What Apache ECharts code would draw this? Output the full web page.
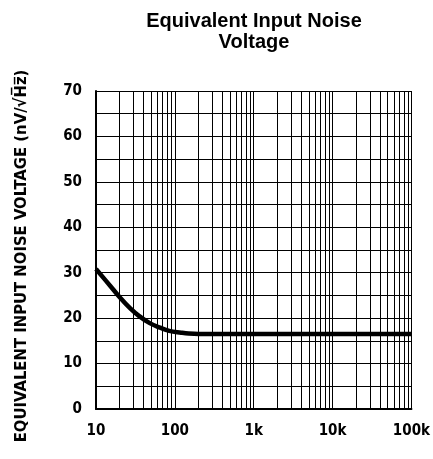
<!DOCTYPE html>
<html>
<head>
<meta charset="utf-8">
<script src="https://cdn.jsdelivr.net/npm/echarts@6/dist/echarts.min.js"></script>
<style>
html,body{margin:0;padding:0;background:#fff;}
#chart{width:433px;height:459px;}
</style>
</head>
<body>
<div id="chart"></div>
<script>
// Data
var freqs = [10, 15, 20, 27, 35, 48, 65, 85, 120, 150, 200, 1000, 10000, 100000];
var noise = [30.8, 27.2, 24.6, 22.2, 20.5, 18.9, 17.9, 17.2, 16.8, 16.6, 16.5, 16.5, 16.5, 16.5];
var minorGridFreqs = [20, 30, 40, 50, 60, 70, 80, 90,
  200, 300, 400, 500, 600, 700, 800, 900,
  2000, 3000, 4000, 5000, 6000, 7000, 8000, 9000,
  20000, 30000, 40000, 50000, 60000, 70000, 80000, 90000];
var xTickLabels = {10: '10', 100: '100', 1000: '1k', 10000: '10k', 100000: '100k'};
var titleLines = ['Equivalent Input Noise', 'Voltage'];
var yName = 'EQUIVALENT INPUT NOISE VOLTAGE (nV/\u221AH\u0305z\u0305)';

var chart = echarts.init(document.getElementById('chart'), null, {renderer: 'canvas'});
var labelFont = '"Liberation Sans Narrow", "DejaVu Sans Condensed", "Liberation Sans", sans-serif';
var option = {
  animation: false,
  backgroundColor: '#fff',
  graphic: [{
    type: 'text',
    x: 254, y: 11,
    style: {
      text: titleLines.join('\n'),
      font: 'bold 20px "Liberation Sans", Arial, sans-serif',
      fill: '#000',
      align: 'center',
      verticalAlign: 'top',
      lineHeight: 21
    }
  }],
  grid: {left: 96, right: 19, top: 91, bottom: 50},
  xAxis: {
    type: 'log', logBase: 10, min: 10, max: 100000,
    axisLine: {show: true, lineStyle: {color: '#000', width: 2}},
    axisTick: {show: false},
    axisLabel: {
      color: '#000', fontSize: 15, fontWeight: 'bold', fontFamily: labelFont,
      margin: 15,
      formatter: function (v) { return xTickLabels[Math.round(v)] || ''; }
    },
    splitLine: {show: true, lineStyle: {color: '#000', width: 1}}
  },
  yAxis: {
    type: 'value', min: 0, max: 70, interval: 10,
    name: yName, nameLocation: 'middle', nameRotate: 90, nameGap: 66,
    nameTextStyle: {color: '#000', fontSize: 16.5, fontWeight: 'bold', fontFamily: labelFont, padding: [0, 12, 0, 0]},
    axisLine: {show: true, lineStyle: {color: '#000', width: 2}},
    axisTick: {show: false},
    axisLabel: {color: '#000', fontSize: 15, fontWeight: 'bold', fontFamily: labelFont, margin: 14},
    splitLine: {show: true, lineStyle: {color: '#000', width: 1}},
    minorTick: {show: false, splitNumber: 2},
    minorSplitLine: {show: true, lineStyle: {color: '#000', width: 1}}
  },
  series: [{
    type: 'line',
    data: freqs.map(function (f, i) { return [f, noise[i]]; }),
    smooth: 0.4,
    showSymbol: false,
    lineStyle: {color: '#000', width: 4.5},
    z: 5,
    markLine: {
      silent: true,
      symbol: 'none',
      label: {show: false},
      lineStyle: {color: '#000', width: 1, type: 'solid'},
      data: minorGridFreqs.map(function (f) { return {xAxis: f}; })
    }
  }]
};
chart.setOption(option);
</script>
</body>
</html>
